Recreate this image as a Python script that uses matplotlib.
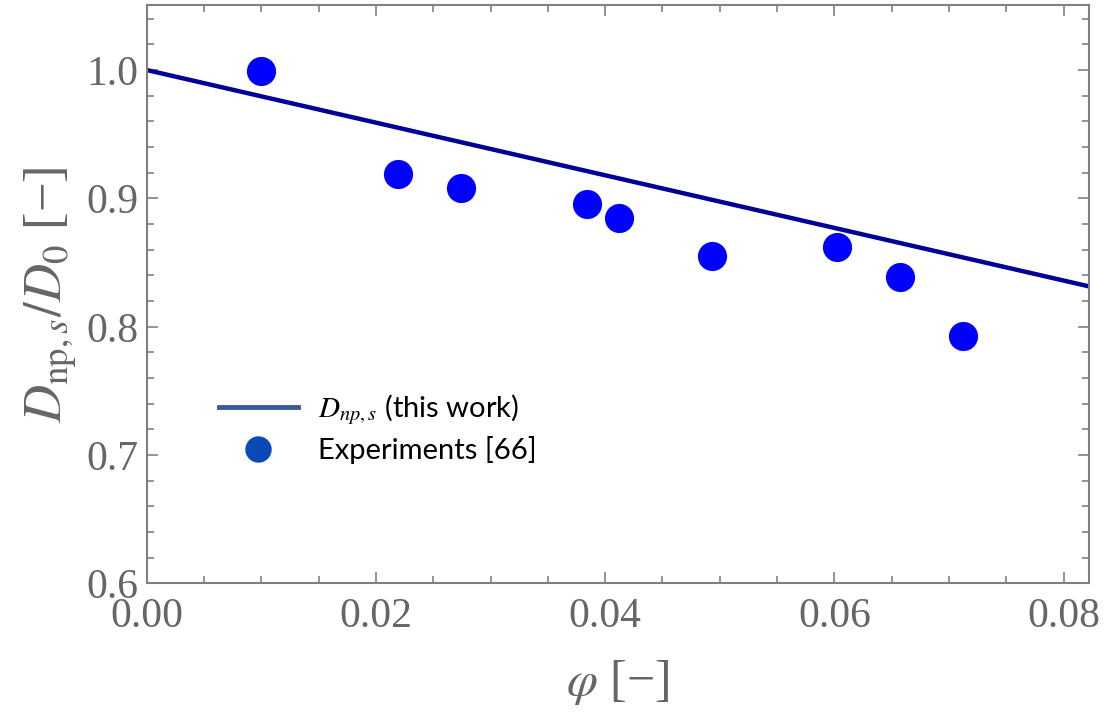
import matplotlib
matplotlib.use("Agg")
import matplotlib.pyplot as plt
from matplotlib.lines import Line2D
from matplotlib.ticker import MultipleLocator

plt.rcParams['mathtext.fontset'] = 'stix'

# model line D_np,s / D_0 (this work)
phi_line = [0.0, 0.0822]
d_line = [1.0, 0.8315]

# experiments [66]
phi_exp = [0.0100, 0.0219, 0.0274, 0.0384, 0.0412, 0.0493, 0.0602, 0.0657, 0.0712]
d_exp = [0.999, 0.919, 0.908, 0.896, 0.885, 0.855, 0.862, 0.839, 0.793]

GREY = '#808080'
LABEL_GREY = '#666666'

fig = plt.figure(figsize=(11.06, 7.2), dpi=100)
ax = fig.add_axes([0.1327, 0.1896, 0.8517, 0.803])

ax.plot(phi_line, d_line, color='#000099', lw=3.2, solid_capstyle='butt', clip_on=False, zorder=2)
ax.plot(phi_exp, d_exp, 'o', color='#0000ff', ms=21, mec='none', zorder=3)

ax.set_xlim(0, 0.0822)
ax.set_ylim(0.6, 1.0504)

ax.xaxis.set_major_locator(MultipleLocator(0.02))
ax.xaxis.set_minor_locator(MultipleLocator(0.005))
ax.yaxis.set_major_locator(MultipleLocator(0.1))
ax.yaxis.set_minor_locator(MultipleLocator(0.02))
ax.xaxis.set_major_formatter(plt.FuncFormatter(lambda v, p: '%.2f' % v))
ax.yaxis.set_major_formatter(plt.FuncFormatter(lambda v, p: '%.1f' % v))

for s in ax.spines.values():
    s.set_color(GREY)
    s.set_linewidth(1.5)

ax.tick_params(which='both', direction='in', top=True, right=True, color=GREY, width=1.2,
               labelcolor=LABEL_GREY, labelsize=30, pad=6)
ax.tick_params(axis='x', which='major', pad=10)
ax.tick_params(which='major', length=8)
ax.tick_params(which='minor', length=5)
for lab in ax.get_xticklabels() + ax.get_yticklabels():
    lab.set_family('Liberation Serif')

ax.set_xlabel(r'$\varphi$ [−]', fontsize=36, color=LABEL_GREY, family='Liberation Serif', labelpad=16)
ax.set_ylabel(r'$D_{\mathrm{np},s}/D_0$ [−]', fontsize=38, color=LABEL_GREY, family='Liberation Serif', labelpad=6)

handles = [Line2D([], [], color='#3a5a9a', lw=3.5),
           Line2D([], [], ls='none', marker='o', ms=19, color='#0a4ab8', mec='none')]
labels = [r'$D_{np,s}$ (this work)', 'Experiments [66]']
leg = ax.legend(handles, labels, loc='upper left', bbox_to_anchor=(0.0767, 0.33), frameon=False,
                borderpad=0, borderaxespad=0, handlelength=2.7, handletextpad=0.68,
                labelspacing=0.3, prop={'family': 'Lato', 'size': 21})

fig.savefig('out.png', dpi=100)
